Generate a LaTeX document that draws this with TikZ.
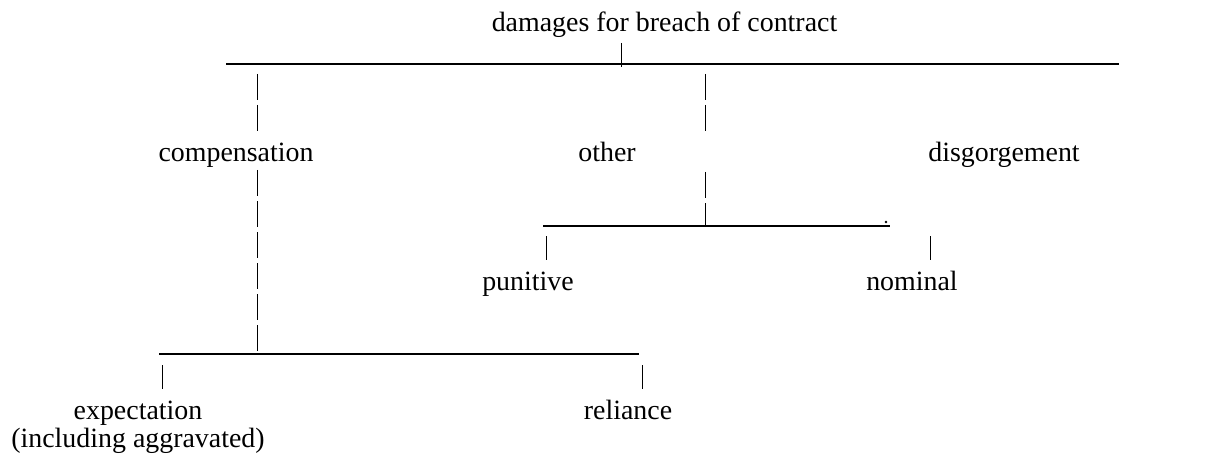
\documentclass[tikz,border=0pt]{standalone}
\usepackage{fontspec}
\setmainfont{Liberation Serif}
\begin{document}
\begin{tikzpicture}[x=1pt,y=-1pt,
  lbl/.style={inner sep=0pt, anchor=base, font=\fontsize{27.9pt}{28pt}\selectfont},
  bar/.style={line width=2.8pt},
  tick/.style={line width=0.9pt},
  dashtick/.style={line width=0.9pt, dash pattern=on 26pt off 5pt}]
\useasboundingbox (0,0) rectangle (1209,457);

% labels
\node[lbl] (root) at (664.5,32) {damages for breach of contract};
\node[lbl] (comp) at (236,162) {compensation};
\node[lbl] (other) at (607,162) {other};
\node[lbl] (disg) at (1004,162) {disgorgement};
\node[lbl] (pun) at (528,290) {punitive};
\node[lbl] (nom) at (912,290) {nominal};
\node[lbl, align=center] (exp) at (138,447) {expectation\\(including aggravated)};
\node[lbl] (rel) at (628,419) {reliance};

% anchor points of the bracket lines
\coordinate (topL) at (226,64);
\coordinate (topR) at (1119,64);
\coordinate (rootA) at (621,43);
\coordinate (rootB) at (621,67);
\coordinate (compA) at (257,74);
\coordinate (compB) at (257,132);
\coordinate (compC) at (257,170);
\coordinate (compD) at (257,354);
\coordinate (othA) at (705,74);
\coordinate (othB) at (705,132);
\coordinate (othC) at (705,172);
\coordinate (othD) at (705,226);
\coordinate (midL) at (543,226);
\coordinate (midR) at (890,226);
\coordinate (punA) at (546,236);
\coordinate (punB) at (546,260);
\coordinate (nomA) at (930,236);
\coordinate (nomB) at (930,260);
\coordinate (botL) at (159,354);
\coordinate (botR) at (639,354);
\coordinate (expA) at (162,365);
\coordinate (expB) at (162,389);
\coordinate (relA) at (642,365);
\coordinate (relB) at (642,389);

% horizontal bars
\draw[bar] (topL) -- (topR);
\draw[bar] (midL) -- (midR);
\draw[bar] (botL) -- (botR);
\fill (886,222) circle (1.3pt);

% vertical strokes
\draw[tick] (rootA) -- (rootB);
\draw[dashtick] (compA) -- (compB);
\draw[dashtick] (compC) -- (compD);
\draw[dashtick] (othA) -- (othB);
\draw[dashtick] (othC) -- (othD);
\draw[tick] (punA) -- (punB);
\draw[tick] (nomA) -- (nomB);
\draw[tick] (expA) -- (expB);
\draw[tick] (relA) -- (relB);
\end{tikzpicture}
\end{document}
